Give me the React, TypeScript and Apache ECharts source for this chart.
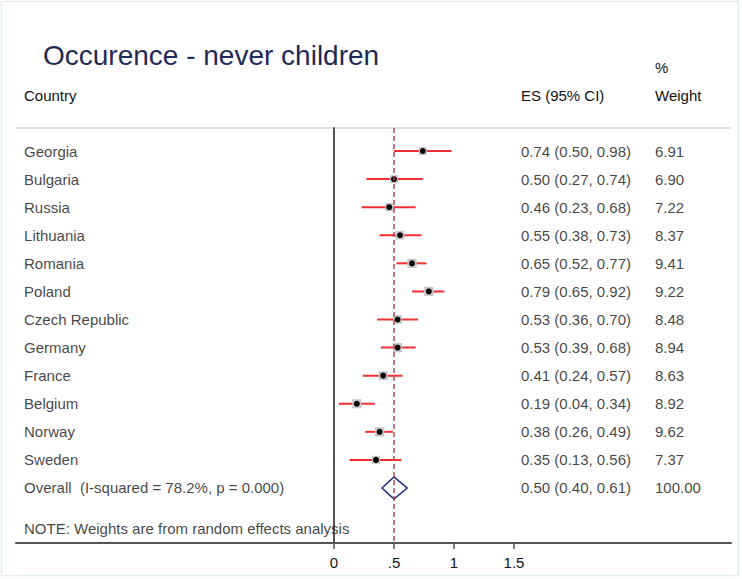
import React, { useEffect, useRef } from "react";
import * as echarts from "echarts";

const countries = [
  "Georgia", "Bulgaria", "Russia", "Lithuania", "Romania", "Poland",
  "Czech Republic", "Germany", "France", "Belgium", "Norway", "Sweden",
];
const es = [0.74, 0.50, 0.46, 0.55, 0.65, 0.79, 0.53, 0.53, 0.41, 0.19, 0.38, 0.35];
const lo = [0.50, 0.27, 0.23, 0.38, 0.52, 0.65, 0.36, 0.39, 0.24, 0.04, 0.26, 0.13];
const hi = [0.98, 0.74, 0.68, 0.73, 0.77, 0.92, 0.70, 0.68, 0.57, 0.34, 0.49, 0.56];
const weights = [6.91, 6.90, 7.22, 8.37, 9.41, 9.22, 8.48, 8.94, 8.63, 8.92, 9.62, 7.37];
const overallLabel = "Overall  (I-squared = 78.2%, p = 0.000)";
const overall = { es: 0.50, lo: 0.40, hi: 0.61, weight: "100.00" };
const noteText = "NOTE: Weights are from random effects analysis";
const xTicks = [0, 0.5, 1, 1.5];

const FONT = "Liberation Sans, Arial, sans-serif";

export default function App() {
  const ref = useRef<HTMLDivElement>(null);
  useEffect(() => {
    if (!ref.current) return;
    const chart = echarts.init(ref.current, null, { renderer: "svg" });
    const n = countries.length;
    const rows = countries.map((_, i) => i);
    const ciData = rows.map((i) => [es[i], i, lo[i], hi[i], weights[i]]);
    const colCountry = -2.583;
    const colES = 1.558;
    const colW = 2.675;
    const fmt = (v: number) => v.toFixed(2);
    const labelSeries = (name: string, x: number, items: { row: number; text: string }[]) => ({
      type: "scatter",
      name,
      symbolSize: 0,
      silent: true,
      data: items.map((it) => ({ value: [x, it.row], label: { formatter: it.text } })),
      label: {
        show: true,
        position: "right",
        distance: 0,
        color: "#111",
        fontSize: 15,
        fontFamily: FONT,
      },
    });

    const countryItems = countries.map((c, i) => ({ row: i, text: c }));
    countryItems.push({ row: n, text: overallLabel });
    countryItems.push({ row: n + 1.46, text: noteText });
    const esItems = rows.map((i) => ({ row: i, text: `${fmt(es[i])} (${fmt(lo[i])}, ${fmt(hi[i])})` }));
    esItems.push({ row: n, text: `${fmt(overall.es)} (${fmt(overall.lo)}, ${fmt(overall.hi)})` });
    const wItems = rows.map((i) => ({ row: i, text: fmt(weights[i]) }));
    wItems.push({ row: n, text: overall.weight });

    chart.setOption({
      animation: false,
      backgroundColor: "#ffffff",
      title: {
        text: "Occurence - never children",
        left: 38,
        top: 36,
        textStyle: { fontSize: 28, fontWeight: "normal", color: "#1e2a57", fontFamily: FONT },
      },
      grid: { left: 16, right: 11, top: 128, bottom: 36 },
      xAxis: {
        type: "value",
        min: -2.65,
        max: 3.3083,
        axisLine: { show: true, onZero: false, lineStyle: { color: "#555", width: 2 } },
        axisTick: { show: true, customValues: xTicks, length: 6, lineStyle: { color: "#555", width: 1.5 } },
        axisLabel: {
          show: true,
          customValues: xTicks,
          formatter: (v: number) => (v === 0.5 ? ".5" : String(v)),
          color: "#111",
          fontSize: 15,
          fontFamily: FONT,
          margin: 12,
        },
        splitLine: { show: false },
      },
      yAxis: {
        type: "value",
        min: -0.82,
        max: 13.96,
        inverse: true,
        axisLine: { show: true, onZero: true, lineStyle: { color: "#555", width: 2 } },
        axisTick: { show: false },
        axisLabel: { show: false },
        splitLine: { show: false },
      },
      graphic: [
        {
          type: "rect",
          shape: { x: 1.5, y: 1.5, width: 737, height: 574 },
          style: { fill: "none", stroke: "#e4edf0", lineWidth: 1.5 },
          silent: true,
        },
        {
          type: "line",
          shape: { x1: 16, y1: 128, x2: 731, y2: 128 },
          style: { stroke: "#d4d4d4", lineWidth: 1.5 },
          silent: true,
        },
        { type: "text", x: 24, y: 95, style: { text: "Country", fontSize: 15, fontFamily: FONT, fill: "#111", verticalAlign: "middle" } },
        { type: "text", x: 521, y: 95, style: { text: "ES (95% CI)", fontSize: 15, fontFamily: FONT, fill: "#111", verticalAlign: "middle" } },
        { type: "text", x: 655, y: 67, style: { text: "%", fontSize: 15, fontFamily: FONT, fill: "#111", verticalAlign: "middle" } },
        { type: "text", x: 655, y: 95, style: { text: "Weight", fontSize: 15, fontFamily: FONT, fill: "#111", verticalAlign: "middle" } },
      ],
      series: [
        {
          type: "custom",
          name: "studies",
          encode: { x: 0, y: 1 },
          data: ciData,
          renderItem: (params: any, api: any) => {
            const row = api.value(1);
            const c = api.coord([api.value(0), row]);
            const a = api.coord([api.value(2), row]);
            const b = api.coord([api.value(3), row]);
            const s = 3.05 * Math.sqrt(api.value(4));
            return {
              type: "group",
              children: [
                { type: "line", shape: { x1: a[0], y1: a[1], x2: b[0], y2: b[1] }, style: { stroke: "#f03030", lineWidth: 2 } },
                { type: "rect", shape: { x: c[0] - s / 2, y: c[1] - s / 2, width: s, height: s }, style: { fill: "#c8c8c8" } },
                { type: "circle", shape: { cx: c[0], cy: c[1], r: 3 }, style: { fill: "#000" } },
              ],
            };
          },
          markLine: {
            silent: true,
            symbol: "none",
            label: { show: false },
            lineStyle: { color: "#b34a55", type: [5, 3], width: 1.5 },
            data: [{ xAxis: overall.es }],
          },
        },
        {
          type: "custom",
          name: "overall",
          encode: { x: 0, y: 1 },
          data: [[overall.es, n, overall.lo, overall.hi]],
          renderItem: (params: any, api: any) => {
            const row = api.value(1);
            const c = api.coord([api.value(0), row]);
            const a = api.coord([api.value(2), row]);
            const b = api.coord([api.value(3), row]);
            const h = 11;
            return {
              type: "polygon",
              shape: { points: [[a[0], c[1]], [c[0], c[1] - h], [b[0], c[1]], [c[0], c[1] + h]] },
              style: { fill: "#fff", stroke: "#222277", lineWidth: 1.5 },
            };
          },
        },
        labelSeries("country", colCountry, countryItems),
        labelSeries("es", colES, esItems),
        labelSeries("weight", colW, wItems),
      ],
    });
    return () => chart.dispose();
  }, []);
  return <div ref={ref} style={{ position: "fixed", left: 0, top: 0, width: 742, height: 579 }} />;
}
